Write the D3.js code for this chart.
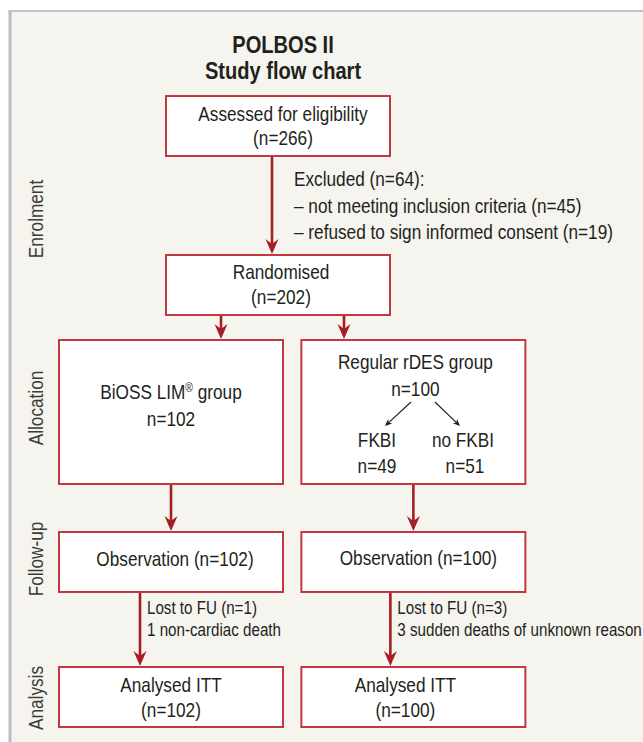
<!DOCTYPE html>
<html>
<head>
<meta charset="utf-8">
<script src="https://cdn.jsdelivr.net/npm/d3@7"></script>
<style>
  html, body { margin: 0; padding: 0; background: #ffffff; }
  svg { display: block; }
</style>
</head>
<body>
<svg id="chart" width="643" height="742"></svg>
<script>
// --- content ---
const titleLines = ['POLBOS II', 'Study flow chart'];
const stages = ['Enrolment', 'Allocation', 'Follow-up', 'Analysis'];
const arms = ['BiOSS', 'rDES'];

const boxes = [
  { id: 'assessed', lines: ['Assessed for eligibility', '(n=266)'] },
  { id: 'randomised', lines: ['Randomised', '(n=202)'] },
  { id: 'bioss', lines: ['BiOSS LIM® group', 'n=102'] },
  { id: 'rdes', lines: ['Regular rDES group', 'n=100'] },
  { id: 'obs1', lines: ['Observation (n=102)'] },
  { id: 'obs2', lines: ['Observation (n=100)'] },
  { id: 'itt1', lines: ['Analysed ITT', '(n=102)'] },
  { id: 'itt2', lines: ['Analysed ITT', '(n=100)'] }
];

const links = [
  ['assessed', 'randomised'],
  ['randomised', 'bioss'],
  ['randomised', 'rdes'],
  ['bioss', 'obs1'],
  ['rdes', 'obs2'],
  ['obs1', 'itt1'],
  ['obs2', 'itt2']
];

const excluded = [
  'Excluded (n=64):',
  '– not meeting inclusion criteria (n=45)',
  '– refused to sign informed consent (n=19)'
];

const lostNotes = [
  ['Lost to FU (n=1)', '1 non-cardiac death'],
  ['Lost to FU (n=3)', '3 sudden deaths of unknown reason']
];

const subgroups = ['FKBI', 'no FKBI'];
const subgroupN = [49, 51];

// --- layout ---
const W = 643;
const H = 742;
const FONT = '"Liberation Sans", Arial, sans-serif';
const SX = 0.82; // horizontal squeeze, the original uses a condensed face
const INK = '#231f20';
const BOX_STROKE = '#c1393e';
const ARROW = '#a61d23';
const BOX_W = 224;

const col = d3.scaleBand()
  .domain(arms)
  .range([59, 525])
  .paddingInner(0.0773);

const rowY = { enrol1: 96, enrol2: 255, alloc: 340, follow: 532, analysis: 667 };
const rowH = { enrol1: 60, enrol2: 60, alloc: 144, follow: 60, analysis: 60 };

const geom = {
  assessed: { x: 166, row: 'enrol1', base: 24.5, dx: 5 },
  randomised: { x: 166, row: 'enrol2', base: 24, dx: 3 },
  bioss: { x: col('BiOSS'), row: 'alloc', base: 59, gap: 27, dx: 0 },
  rdes: { x: col('rDES'), row: 'alloc', base: 29, gap: 27, dx: 2 },
  obs1: { x: col('BiOSS'), row: 'follow', base: 34, dx: 4 },
  obs2: { x: col('rDES'), row: 'follow', base: 33, dx: 5 },
  itt1: { x: col('BiOSS'), row: 'analysis', base: 25, dx: 0 },
  itt2: { x: col('rDES'), row: 'analysis', base: 25, dx: -8 }
};

const linkX = {
  'assessed>randomised': 272,
  'randomised>bioss': 221,
  'randomised>rdes': 344,
  'bioss>obs1': col('BiOSS') + 112,
  'rdes>obs2': col('rDES') + 112,
  'obs1>itt1': col('BiOSS') + 81,
  'obs2>itt2': col('rDES') + 89
};

const svg = d3.select('#chart')
  .attr('viewBox', `0 0 ${W} ${H}`);

// condensed text helper, sets ® as a small raised mark
function label(parent, x, y, str, opts = {}) {
  const rot = opts.rotate ? ` rotate(${opts.rotate})` : '';
  const size = opts.size || 21;
  const t = parent.append('text')
    .attr('transform', `translate(${x}, ${y})${rot} scale(${SX}, 1)`)
    .attr('text-anchor', opts.anchor || 'start')
    .attr('font-family', FONT)
    .attr('font-size', size)
    .attr('font-weight', opts.weight || 400)
    .attr('fill', opts.fill || INK);

  const parts = str.split('®');
  parts.forEach((p, i) => {
    if (i > 0) {
      t.append('tspan')
        .attr('font-size', size * 0.6)
        .attr('dy', -size * 0.35)
        .text('®');
      t.append('tspan')
        .attr('dy', size * 0.35)
        .text(p);
    } else {
      t.append('tspan').text(p);
    }
  });
  return t;
}

// panel
svg.append('rect')
  .attr('x', 10)
  .attr('y', 11)
  .attr('width', W)
  .attr('height', H)
  .attr('fill', '#f5f4ee');

svg.append('line')
  .attr('x1', 9).attr('x2', W)
  .attr('y1', 11).attr('y2', 11)
  .attr('stroke', '#c4c4c4')
  .attr('stroke-width', 2);

svg.append('line')
  .attr('x1', 10).attr('x2', 10)
  .attr('y1', 10).attr('y2', H)
  .attr('stroke', '#bdbdbd')
  .attr('stroke-width', 3);

// title
const titleG = svg.append('g');
titleLines.forEach((t, i) => {
  label(titleG, 283, 53 + i * 26, t, { anchor: 'middle', size: 24.5, weight: 700 });
});

// stage labels
const stageCentre = d3.scaleOrdinal()
  .domain(stages)
  .range([219, 408, 559, 698]);

const stageG = svg.append('g');
stages.forEach((s) => {
  label(stageG, 43, stageCentre(s), s, { anchor: 'middle', rotate: -90, fill: '#3b3b3b' });
});

// arrows
function arrow(g, x1, y1, x2, y2, opts) {
  const ang = Math.atan2(y2 - y1, x2 - x1);
  const ux = Math.cos(ang);
  const uy = Math.sin(ang);
  const px = -uy;
  const py = ux;
  const bx = x2 - ux * opts.len;
  const by = y2 - uy * opts.len;
  const nx = x2 - ux * opts.notch;
  const ny = y2 - uy * opts.notch;

  g.append('line')
    .attr('x1', x1).attr('y1', y1)
    .attr('x2', nx).attr('y2', ny)
    .attr('stroke', opts.color)
    .attr('stroke-width', opts.width);

  g.append('path')
    .attr('d', `M${x2},${y2} L${bx + px * opts.half},${by + py * opts.half} L${nx},${ny} L${bx - px * opts.half},${by - py * opts.half} Z`)
    .attr('fill', opts.color);
}

const arrowLayer = svg.append('g');
links.forEach(([from, to]) => {
  const s = geom[from];
  const t = geom[to];
  const x = linkX[`${from}>${to}`];
  const y1 = rowY[s.row] + rowH[s.row];
  const y2 = rowY[t.row] - 1;
  arrow(arrowLayer, x, y1, x, y2, { len: 15, half: 6.5, notch: 10, color: ARROW, width: 2.6 });
});

// boxes
const boxLayer = svg.append('g');
boxes.forEach((b) => {
  const g = geom[b.id];
  const y = rowY[g.row];
  const h = rowH[g.row];

  boxLayer.append('rect')
    .attr('x', g.x)
    .attr('y', y)
    .attr('width', BOX_W)
    .attr('height', h)
    .attr('fill', '#ffffff')
    .attr('stroke', BOX_STROKE)
    .attr('stroke-width', 2);

  b.lines.forEach((line, i) => {
    label(boxLayer, g.x + BOX_W / 2 + g.dx, y + g.base + i * (g.gap || 24.5), line, { anchor: 'middle' });
  });
});

// rDES subgroups
const subX = d3.scalePoint()
  .domain(subgroups)
  .range([377, 463]);
const forkY = rowY.alloc + 62;

subgroups.forEach((s, i) => {
  const sx = subX(s);
  const ox = i === 0 ? 411 : 435;
  arrow(boxLayer, ox, forkY, sx + (i === 0 ? 8 : -3), forkY + 24,
    { len: 7, half: 3, notch: 5, color: '#1a1a1a', width: 1.1 });

  label(boxLayer, sx, rowY.alloc + 107, s, { anchor: 'middle' });
  label(boxLayer, sx + (i === 0 ? 0 : 2), rowY.alloc + 133, `n=${subgroupN[i]}`, { anchor: 'middle' });
});

// excluded note
const exG = svg.append('g');
excluded.forEach((t, i) => {
  label(exG, 294, 186 + i * 26.5, t);
});

// lost to follow-up notes
lostNotes.forEach((lines, i) => {
  const x = linkX[i === 0 ? 'obs1>itt1' : 'obs2>itt2'] + 7;
  const g = svg.append('g');
  lines.forEach((t, j) => {
    label(g, x, 614 + j * 22, t, { size: 18.5 });
  });
});
</script>
</body>
</html>
